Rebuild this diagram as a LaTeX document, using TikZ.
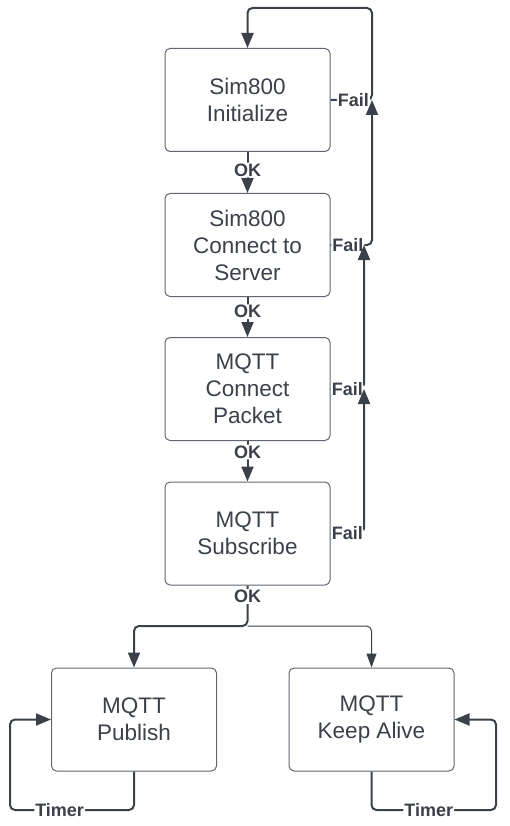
\documentclass[tikz,border=0pt]{standalone}
\usepackage{fontspec}
\setmainfont{Liberation Sans}
\usetikzlibrary{arrows.meta}
\definecolor{linec}{HTML}{3A414A}
\definecolor{boxc}{HTML}{5F6670}
\begin{document}
\begin{tikzpicture}[x=1pt,y=-1pt,
    state/.style={draw=boxc,line width=1pt,rounded corners=5pt,
      minimum width=165pt,minimum height=103pt,align=center,text=linec,
      font=\fontsize{22.5}{27}\selectfont},
    lbl/.style={fill=white,inner sep=1pt,text=linec,
      font=\fontsize{18}{18}\selectfont\bfseries},
    flow/.style={draw=linec,line width=2pt,rounded corners=5pt,
      -{Triangle[length=15pt,width=12pt]}},
    thinflow/.style={draw=linec,line width=1pt,rounded corners=5pt,
      -{Triangle[length=14pt,width=10pt]}}]
      \useasboundingbox (0,0) rectangle (509,826);
      \draw
        (247.5,100) node[state] (0){Sim800\\Initialize}
        (247.5,245) node[state] (1){Sim800\\Connect to\\Server}
        (247.5,389) node[state] (2){MQTT\\Connect\\Packet}
        (247.5,533.5) node[state] (3){MQTT\\Subscribe}
        (134,719.5) node[state] (4){MQTT\\Publish}
        (371.5,719.5) node[state] (5){MQTT\\Keep Alive};
      \coordinate (t0) at (372,8);
      \coordinate (t1) at (364,8);
      \coordinate (sp) at (247.5,626);
      \coordinate (b0) at (10,810);
      \coordinate (b1) at (496,810);
      \begin{scope}[flow]
        \draw (0) -- node[lbl,pos=0.44]{OK} (1);
        \draw (1) -- node[lbl,pos=0.37]{OK} (2);
        \draw (2) -- node[lbl,pos=0.27]{OK} (3);
        \draw (3) -- node[lbl,pos=0.27]{OK} (sp) -| (4);
        \draw (0.east) -- node[lbl,pos=0.55]{Fail} (0.east -| t0) -- (t0) -| (0.north);
        \draw (1.east) -- node[lbl,pos=0.42]{Fail} (1.east -| t0) -- (0.east -| t0);
        \draw (2.east) -- node[lbl,pos=0.5]{Fail} (2.east -| t1) -- (1.east -| t1);
        \draw (3.east) -- node[lbl,pos=0.5]{Fail} (3.east -| t1) -- (2.east -| t1);
        \draw (4.south) |- node[lbl,pos=0.8]{Timer} (b0) |- (4.west);
        \draw (5.south) |- node[lbl,pos=0.73]{Timer} (b1) |- (5.east);
      \end{scope}
      \draw[thinflow] (sp) -| (5);
    \end{tikzpicture}
\end{document}
